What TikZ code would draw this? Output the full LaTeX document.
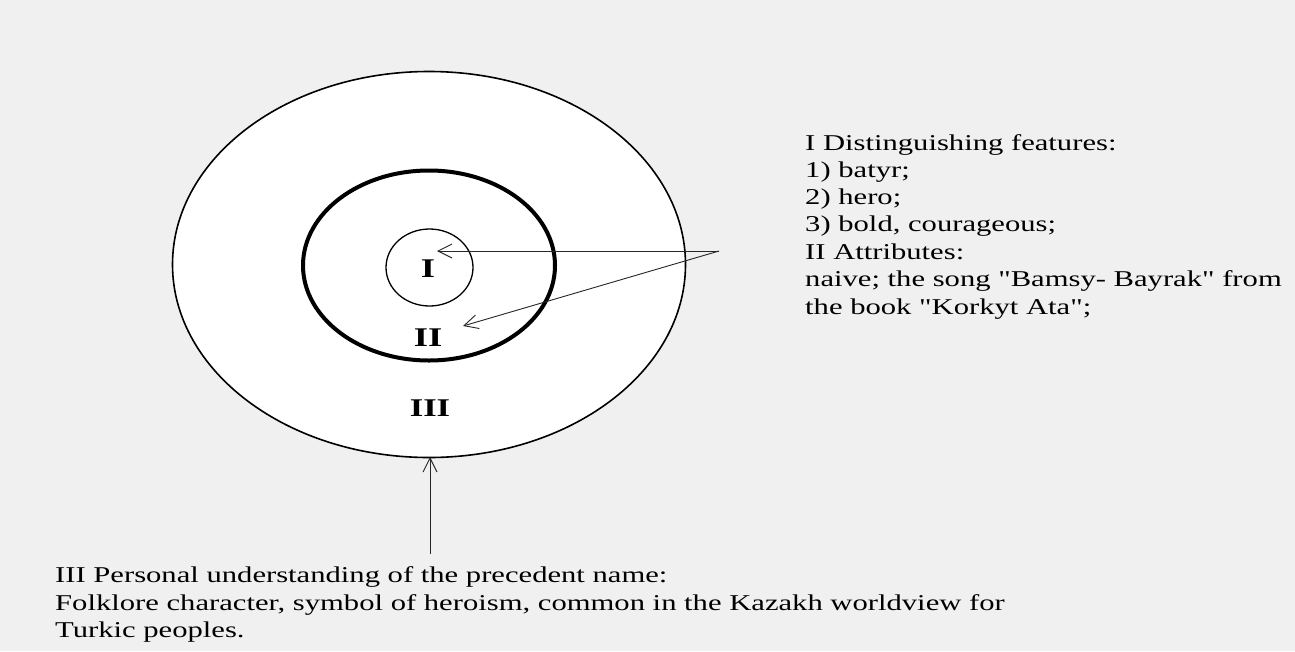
\documentclass[tikz,border=0pt]{standalone}
\usepackage{fontspec}
\setmainfont{Liberation Serif}
\newfontfamily\widefont{Liberation Serif}[FakeStretch=1.355]
\usetikzlibrary{arrows.meta}
\definecolor{bg}{HTML}{F0F0F0}
\tikzset{
  ring/.style={draw=black, fill=white},
  lbl/.style={font=\widefont\fontsize{27}{30}\selectfont\bfseries, inner sep=0pt},
  txt/.style={font=\widefont\fontsize{22.6}{27.4}\selectfont, anchor=base west, inner sep=0pt},
  arr/.style={-{Straight Barb[length=14pt,width=14pt]}, line width=0.9pt, draw=black!85}
}
\begin{document}
\begin{tikzpicture}[x=1pt,y=-1pt]
\useasboundingbox (0,0) rectangle (1295,651);
\fill[bg] (0,0) rectangle (1295,651);
% rings
\draw[ring, line width=1.6pt] (429,264.5) ellipse [x radius=256.5, y radius=193];
\draw[ring, line width=4pt] (429,265.5) ellipse [x radius=126, y radius=95];
\draw[ring, line width=1.3pt] (429.5,267.5) ellipse [x radius=43.5, y radius=38.5];
% labels
\node[lbl] (l1) at (428,269) {I};
\node[lbl] (l2) at (428,338) {II};
\node[lbl, font=\widefont\fontsize{25.5}{28}\selectfont\bfseries] (l3) at (430,408) {III};
% connectors
\coordinate (apex) at (719,251);
\coordinate (tipI) at (437,251);
\coordinate (tipII) at (463,326);
\coordinate (tipIII) at (430,457);
\coordinate (foot) at (430,554);
\draw[arr] (apex) -- (tipI);
\draw[arr] (apex) -- (tipII);
\draw[arr] (foot) -- (tipIII);
% right text
\node[txt] (r1) at (805,150) {I Distinguishing features:};
\node[txt] (r2) at (805,177.5) {1) batyr;};
\node[txt] (r3) at (805,204.5) {2) hero;};
\node[txt] (r4) at (805,231.5) {3) bold, courageous;};
\node[txt] (r5) at (805,259) {II Attributes:};
\node[txt] (r6) at (805,286.5) {naive; the song "Bamsy- Bayrak" from};
\node[txt] (r7) at (805,314) {the book "Korkyt Ata";};
% bottom text
\node[txt] (b1) at (55,582) {III Personal understanding of the precedent name:};
\node[txt] (b2) at (55,610) {Folklore character, symbol of heroism, common in the Kazakh worldview for};
\node[txt] (b3) at (55,637) {Turkic peoples.};
\end{tikzpicture}
\end{document}
